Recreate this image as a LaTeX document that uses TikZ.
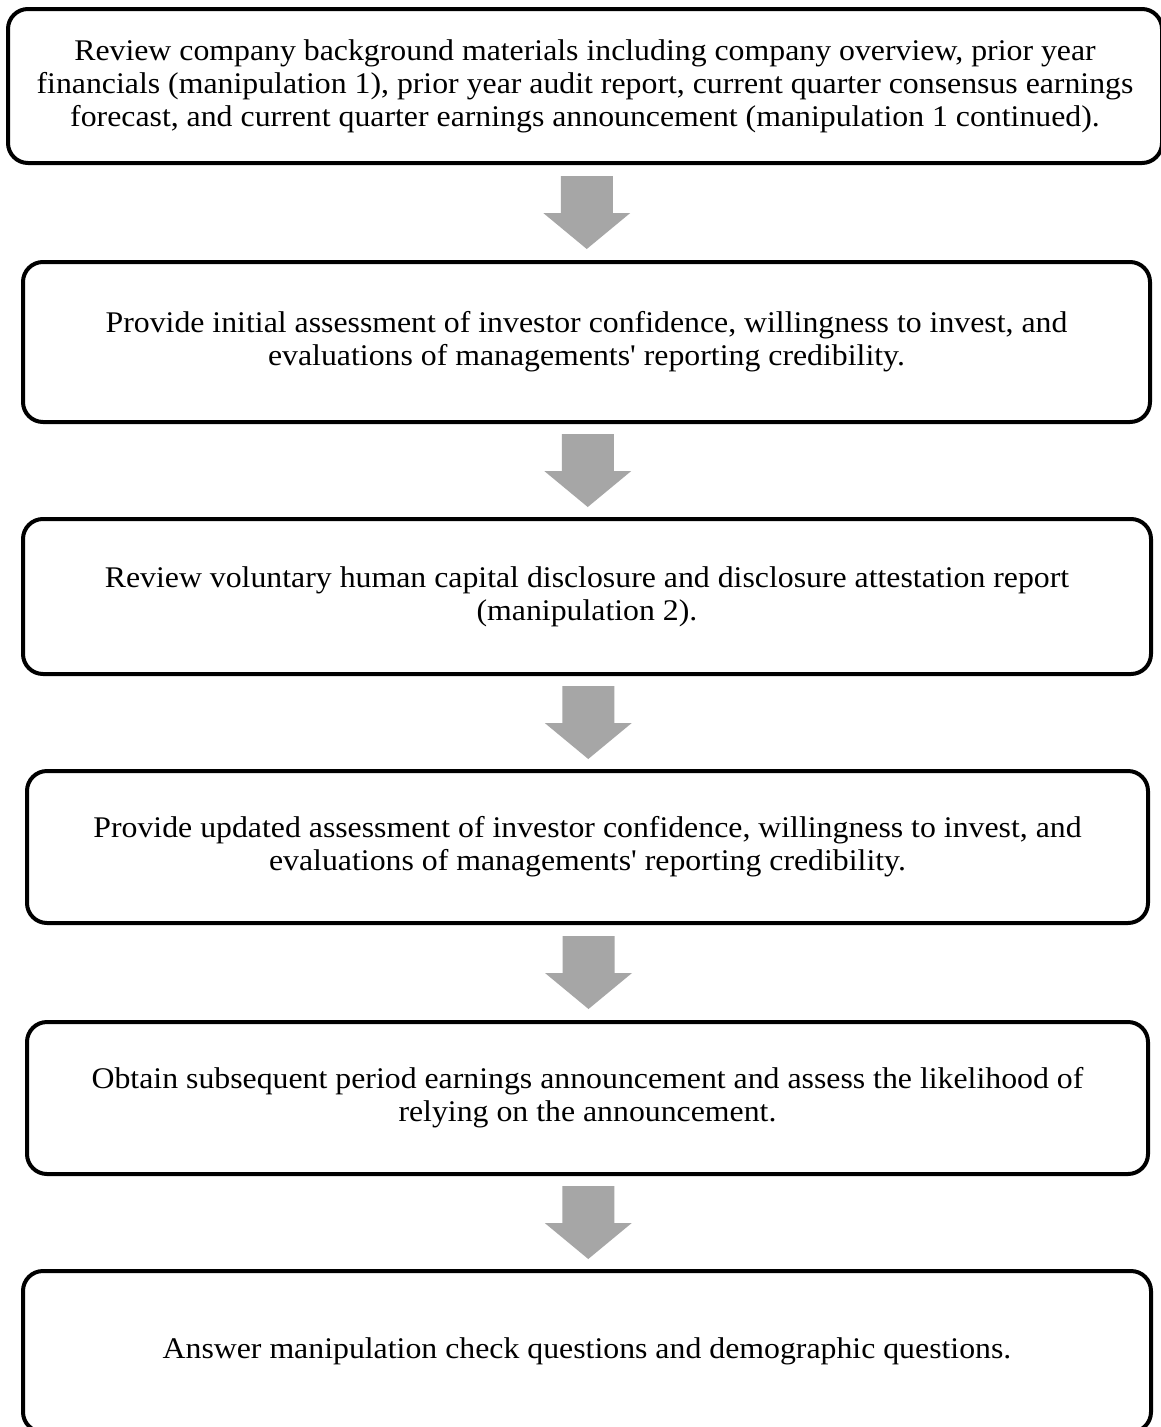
\documentclass[tikz,border=0pt]{standalone}
\usepackage{fontspec}
\newfontfamily\ser{Liberation Serif}[FakeStretch=1.06]
\usetikzlibrary{calc}
\definecolor{arrowgray}{HTML}{A6A6A6}
\newcommand\flowarrow[2]{%
  \coordinate (m#1#2) at ($(#1.south)!0.5!(#2.north)+(1,0)$);
  \fill[arrowgray] ([xshift=-26pt,yshift=36.5pt]m#1#2) -- ([xshift=26pt,yshift=36.5pt]m#1#2)
    -- ([xshift=26pt,yshift=-0.5pt]m#1#2) -- ([xshift=43.5pt,yshift=-0.5pt]m#1#2)
    -- ([yshift=-36.5pt]m#1#2) -- ([xshift=-43.5pt,yshift=-0.5pt]m#1#2)
    -- ([xshift=-26pt,yshift=-0.5pt]m#1#2) -- cycle;}
\begin{document}
\begin{tikzpicture}[x=1pt,y=-1pt,
  stepbox/.style={draw=black, line width=4pt, rounded corners=20pt, align=center,
    font=\ser\fontsize{30}{33}\selectfont, inner sep=0pt}]
\useasboundingbox (0,0) rectangle (1161,1427);
\fill[white] (0,0) rectangle (1161,1427);
\node[stepbox, minimum width=1154pt, minimum height=154pt] (b1) at (585,86)
  {Review company background materials including company overview, prior year\\
   financials (manipulation 1), prior year audit report, current quarter consensus earnings\\
   forecast, and current quarter earnings announcement (manipulation 1 continued).};
\node[stepbox, minimum width=1127pt, minimum height=160pt] (b2) at (586.5,342)
  {Provide initial assessment of investor confidence, willingness to invest, and\\
   evaluations of managements' reporting credibility.};
\node[stepbox, minimum width=1128pt, minimum height=155pt] (b3) at (587,596.5)
  {Review voluntary human capital disclosure and disclosure attestation report\\
   (manipulation 2).};
\node[stepbox, minimum width=1121pt, minimum height=152pt] (b4) at (587.5,847)
  {Provide updated assessment of investor confidence, willingness to invest, and\\
   evaluations of managements' reporting credibility.};
\node[stepbox, minimum width=1121pt, minimum height=152pt] (b5) at (587.5,1098)
  {Obtain subsequent period earnings announcement and assess the likelihood of\\
   relying on the announcement.};
\node[stepbox, minimum width=1128pt, minimum height=161pt] (b6) at (587,1351.5)
  {Answer manipulation check questions and demographic questions.};
\flowarrow{b1}{b2}
\flowarrow{b2}{b3}
\flowarrow{b3}{b4}
\flowarrow{b4}{b5}
\flowarrow{b5}{b6}
\end{tikzpicture}
\end{document}
